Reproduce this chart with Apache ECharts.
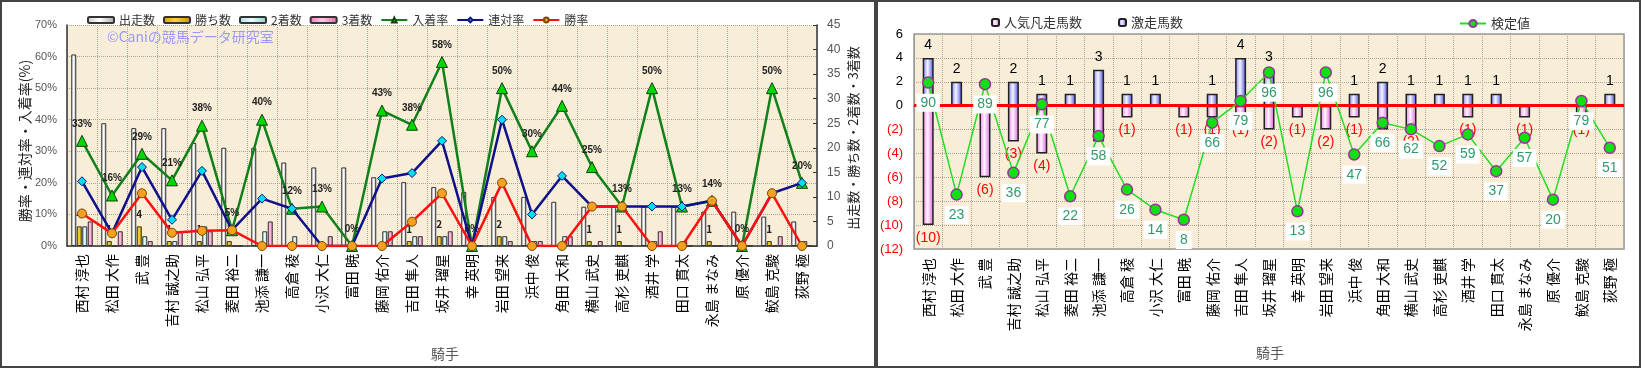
<!DOCTYPE html>
<html>
<head>
<meta charset="utf-8">
<script src="https://cdn.jsdelivr.net/npm/echarts/dist/echarts.min.js"></script>
<style>
body{margin:0;background:#fff;}
#left{position:absolute;left:0;top:0;width:876px;height:368px;}
#right{position:absolute;left:876px;top:0;width:765px;height:368px;}
.frame{position:absolute;box-sizing:border-box;border:2px solid #444;pointer-events:none;top:0;height:368px;}
</style>
</head>
<body>
<div id="left"></div>
<div id="right"></div>
<div class="frame" style="left:0;width:876px;"></div>
<div class="frame" style="left:876px;width:765px;"></div>
<script>
var jockeys = ['西村 淳也','松田 大作','武 豊','吉村 誠之助','松山 弘平','菱田 裕二','池添 謙一','高倉 稜','小沢 大仁','富田 暁','藤岡 佑介','吉田 隼人','坂井 瑠星','幸 英明','岩田 望来','浜中 俊','角田 大和','横山 武史','高杉 吏麒','酒井 学','田口 貫太','永島 まなみ','原 優介','鮫島 克駿','荻野 極'];

// 左：出走数・勝ち数・2着数・3着数（右軸）
var runs    = [39,25,24,24,21,20,20,17,16,16,14,13,12,11,10,10,9,8,8,8,8,7,7,6,5];
var wins    = [4,1,4,1,1,1,0,0,0,0,0,1,2,0,2,0,0,1,1,0,0,1,0,1,0];
var seconds = [4,0,2,1,4,0,3,2,0,0,3,2,2,0,2,1,2,0,0,1,1,0,0,0,1];
var thirds  = [5,3,1,3,3,0,5,0,2,0,3,2,3,0,1,1,2,1,0,3,0,0,0,2,0];
// 左：率（%）
var placeRate  = [33.3,16.0,29.2,20.8,38.1,5.0,40.0,11.8,12.5,0,42.9,38.4,58.3,0,50.0,30.0,44.4,25.0,12.5,50.0,12.5,14.3,0,50.0,20.0];
var rentaiRate = [20.5,4.0,25.0,8.3,23.8,5.0,15.0,11.8,0,0,21.4,23.1,33.3,0,40.0,10.0,22.2,12.5,12.5,12.5,12.5,14.3,0,16.7,20.0];
var winRate    = [10.3,4.0,16.7,4.2,4.8,5.0,0,0,0,0,0,7.7,16.7,0,20.0,0,0,12.5,12.5,0,0,14.3,0,16.7,0];

// 右：激走馬数・人気凡走馬数・検定値
var gekisou = [4,2,0,2,1,1,3,1,1,0,1,4,3,0,0,1,2,1,1,1,1,0,0,0,1];
var bonsou  = [-10,0,-6,-3,-4,0,-3,-1,0,-1,-1,-1,-2,-1,-2,-1,-2,-2,0,-1,0,-1,0,-1,0];
var kentei  = [90,23,89,36,77,22,58,26,14,8,66,79,96,13,96,47,66,62,52,59,37,57,20,79,51];

var FONT = '"Noto Sans CJK JP", "Noto Sans", sans-serif';

function grad(c1, c2, c3) {
    return new echarts.graphic.LinearGradient(0, 0, 1, 0, [
        {offset: 0, color: c1}, {offset: 0.45, color: c2}, {offset: 1, color: c3}
    ]);
}
function barStyle(c1, c2, c3) {
    return {color: grad(c1, c2, c3), borderColor: '#333', borderWidth: 1};
}
var gridLine = {color: '#aaa294', type: 'dotted', width: 1};

var chartL = echarts.init(document.getElementById('left'));
var optL = {
    animation: false,
    textStyle: {fontFamily: FONT},
    grid: {left: 67, right: 59, top: 25, bottom: 122, show: true, backgroundColor: '#f8eed8', borderWidth: 0, outerBoundsMode: 'none'},
    legend: {
        left: 82, top: 9, itemWidth: 26, itemHeight: 6, itemGap: 8,
        textStyle: {fontSize: 12, color: '#333', fontFamily: FONT},
        data: ['出走数','勝ち数','2着数','3着数','入着率','連対率','勝率']
    },
    graphic: [
        {type: 'text', left: 107, top: 30, style: {text: '©Caniの競馬データ研究室', fill: '#9a9af4', font: '14px ' + FONT}},
        {type: 'text', x: 25, y: 141, rotation: Math.PI / 2, style: {text: '勝率・連対率・入着率(%)', fill: '#222', font: '14px ' + FONT, textAlign: 'center', textVerticalAlign: 'middle'}},
        {type: 'text', x: 853, y: 138, rotation: Math.PI / 2, style: {text: '出走数・勝ち数・2着数・3着数', fill: '#222', font: '13px ' + FONT, textAlign: 'center', textVerticalAlign: 'middle'}},
        {type: 'text', x: 445, y: 354, style: {text: '騎手', fill: '#555', font: '14px ' + FONT, textAlign: 'center', textVerticalAlign: 'middle'}}
    ],
    xAxis: {
        type: 'category', data: jockeys,
        axisLine: {lineStyle: {color: '#333', width: 1.5}},
        axisTick: {show: false},
        axisLabel: {interval: 0, rotate: 90, fontSize: 14, color: '#000', margin: 8, fontFamily: FONT},
        splitLine: {show: true, lineStyle: gridLine}
    },
    yAxis: [
        {type: 'value', min: 0, max: 70, interval: 10,
         axisLine: {show: true, lineStyle: {color: '#333', width: 1.5}},
         axisTick: {show: false},
         axisLabel: {formatter: '{value}%', fontSize: 11, color: '#555', margin: 10, fontFamily: 'Arial, sans-serif'},
         splitLine: {show: true, lineStyle: gridLine}},
        {type: 'value', min: 0, max: 45, interval: 5, position: 'right',
         axisLine: {show: true, lineStyle: {color: '#333', width: 1.5}},
         axisTick: {show: true, inside: true, length: 4, lineStyle: {color: '#333'}},
         axisLabel: {fontSize: 12, color: '#555', margin: 10, fontFamily: 'Arial, sans-serif'},
         splitLine: {show: false}}
    ],
    series: [
        {name: '出走数', type: 'bar', yAxisIndex: 1, data: runs, barWidth: 5, barGap: '10%',
         itemStyle: barStyle('#c8c8c8', '#ffffff', '#a8a8a8')},
        {name: '勝ち数', type: 'bar', yAxisIndex: 1, data: wins, barWidth: 5, barGap: '10%',
         itemStyle: barStyle('#e0a000', '#ffd23c', '#c88c00'),
         label: {show: true, position: 'top', distance: 7, fontSize: 10, fontWeight: 'bold', color: '#222',
                 formatter: function (p) { return p.value ? p.value : ''; }}},
        {name: '2着数', type: 'bar', yAxisIndex: 1, data: seconds, barWidth: 5, barGap: '10%',
         itemStyle: barStyle('#a0dede', '#eaffff', '#88cccc')},
        {name: '3着数', type: 'bar', yAxisIndex: 1, data: thirds, barWidth: 5, barGap: '10%',
         itemStyle: barStyle('#f07cc0', '#ffc8e6', '#dc6aa8')},
        {name: '入着率', type: 'line', yAxisIndex: 0, data: placeRate, z: 4,
         symbol: 'triangle', symbolSize: 11,
         lineStyle: {color: '#12801a', width: 2.5},
         itemStyle: {color: '#00d800', borderColor: '#124012', borderWidth: 1},
         label: {show: true, position: 'top', distance: 6, fontSize: 10, fontWeight: 'bold', color: '#222', fontFamily: 'Arial, sans-serif',
                 formatter: function (p) { return Math.round(p.value) + '%'; }}},
        {name: '連対率', type: 'line', yAxisIndex: 0, data: rentaiRate, z: 5,
         symbol: 'diamond', symbolSize: 9,
         lineStyle: {color: '#10108a', width: 2.5},
         itemStyle: {color: '#00e0e8', borderColor: '#10108a', borderWidth: 1}},
        {name: '勝率', type: 'line', yAxisIndex: 0, data: winRate, z: 6,
         symbol: 'circle', symbolSize: 9,
         lineStyle: {color: '#ff1010', width: 2.5},
         itemStyle: {color: '#f5a020', borderColor: '#7a4a00', borderWidth: 1}}
    ]
};
chartL.setOption(optL);

var chartR = echarts.init(document.getElementById('right'));
var optR = {
    animation: false,
    textStyle: {fontFamily: FONT},
    grid: {left: 38, right: 17, top: 34, bottom: 119, show: true, backgroundColor: '#f8eed8', borderColor: '#999', borderWidth: 1.5, outerBoundsMode: 'none'},
    legend: [
        {left: 110, top: 11, itemWidth: 7, itemHeight: 7, itemGap: 36,
         textStyle: {fontSize: 13, color: '#333', fontFamily: FONT},
         data: ['人気凡走馬数', '激走馬数']},
        {left: 578, top: 12, itemWidth: 26, itemHeight: 9,
         textStyle: {fontSize: 13, color: '#333', fontFamily: FONT},
         data: ['検定値']}
    ],
    graphic: [
        {type: 'text', x: 394, y: 353, style: {text: '騎手', fill: '#555', font: '14px ' + FONT, textAlign: 'center', textVerticalAlign: 'middle'}}
    ],
    xAxis: {
        type: 'category', data: jockeys,
        axisLine: {lineStyle: {color: '#999', width: 1.5}},
        axisTick: {show: false},
        axisLabel: {interval: 0, rotate: 90, fontSize: 14, color: '#000', margin: 9, fontFamily: FONT},
        splitLine: {show: true, lineStyle: gridLine}
    },
    yAxis: [
        {type: 'value', min: -12, max: 6, interval: 2,
         axisLine: {show: true, lineStyle: {color: '#999'}},
         axisTick: {show: false},
         axisLabel: {fontSize: 13, margin: 11, fontFamily: 'Arial, sans-serif',
                     formatter: function (v) { return v < 0 ? '(' + (-v) + ')' : String(v); },
                     color: function (v) { return Number(v) < 0 ? '#ff0000' : '#000'; }},
         splitLine: {show: true, lineStyle: gridLine}},
        {type: 'value', min: -9.5, max: 119, show: false, splitLine: {show: false}}
    ],
    series: [
        {name: '激走馬数', type: 'bar', data: gekisou, barWidth: 11,
         itemStyle: {color: grad('#7a7aff', '#f4f4ff', '#4848e0'), borderColor: '#222', borderWidth: 1.5},
         label: {show: true, position: 'top', distance: 6, fontSize: 14, color: '#000', fontFamily: 'Arial, sans-serif',
                 formatter: function (p) { return p.value ? p.value : ''; }}},
        {name: '人気凡走馬数', type: 'bar', data: bonsou, barWidth: 11, barGap: '-100%',
         itemStyle: {color: grad('#f07af0', '#fff4ff', '#d85ad8'), borderColor: '#222', borderWidth: 1.5},
         label: {show: true, position: 'bottom', distance: 6, fontSize: 14, color: '#ff0000', fontFamily: 'Arial, sans-serif',
                 formatter: function (p) { return p.value ? '(' + (-p.value) + ')' : ''; }},
         markLine: {silent: true, symbol: 'none', label: {show: false},
                    lineStyle: {color: '#ff0000', width: 3, type: 'solid'},
                    data: [{yAxis: 0}]}},
        {name: '検定値', type: 'line', yAxisIndex: 1, data: kentei, z: 6,
         symbol: 'circle', symbolSize: 11,
         lineStyle: {color: '#22dd22', width: 1.5},
         itemStyle: {color: '#10e010', borderColor: '#993399', borderWidth: 1.5},
         label: {show: true, position: 'bottom', distance: 5, fontSize: 14, color: '#2f9a6a', fontFamily: 'Arial, sans-serif',
                 backgroundColor: '#fff', padding: [2, 4]}}
    ]
};
chartR.setOption(optR);
</script>
</body>
</html>
